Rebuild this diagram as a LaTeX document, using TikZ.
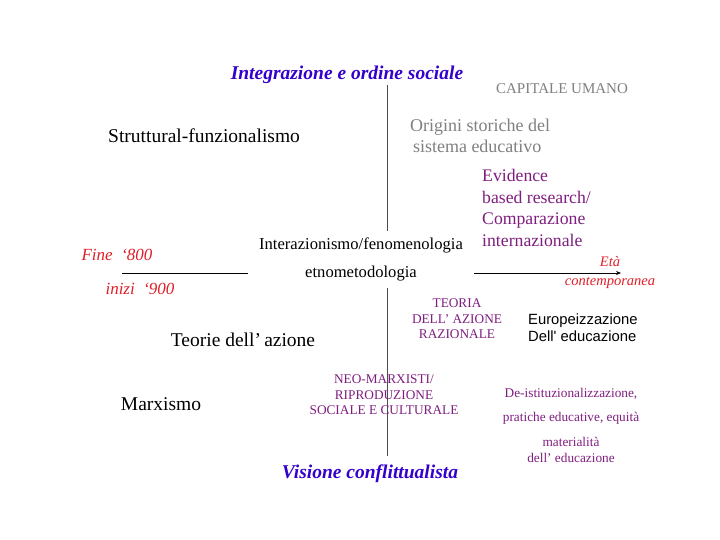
\documentclass[tikz,border=0pt]{standalone}
\usepackage{fontspec}
\setmainfont{Liberation Serif}
\newfontfamily\arialfont{Liberation Sans}
\usetikzlibrary{arrows.meta}
\definecolor{assecol}{RGB}{51,0,204}
\definecolor{viola}{RGB}{128,30,128}
\definecolor{grigio}{RGB}{128,128,128}
\definecolor{rosso}{RGB}{225,30,40}
\tikzset{
	titolo/.style={text=assecol,font=\fontsize{19.5}{22}\selectfont\bfseries\itshape},
	teoria/.style={text=black,font=\fontsize{19.5}{22}\selectfont},
	epoca/.style={text=rosso,font=\fontsize{17}{20}\selectfont\itshape},
	tema/.style={text=viola,font=\fontsize{13.3}{15.5}\selectfont,align=center,inner sep=0pt}
}
\begin{document}
\begin{tikzpicture}[x=1pt,y=-1pt]
				%%%%% START %%%%%
				\useasboundingbox[fill=white] (0,0) rectangle (720,540);
				
				% asse verticale
				\coordinate (alto) at (387,85);
				\coordinate (centroA) at (387,231);
				\coordinate (centroB) at (387,288);
				\coordinate (basso) at (387,456);
				\draw[line width=1pt, black!70] (alto) -- (centroA);
				\draw[line width=1pt, black!70] (centroB) -- (basso);
				
				% asse orizzontale
				\coordinate (sinA) at (122,273);
				\coordinate (sinB) at (248,273);
				\coordinate (desA) at (474,273);
				\coordinate (desB) at (621,273);
				\draw[line width=0.8pt] (sinA) -- (sinB);
				\draw[line width=0.8pt, -{Stealth[length=5pt,width=4pt]}] (desA) -- (desB);
				
				\node[titolo] (integr) at (347,75) {Integrazione e ordine sociale};
				\node[titolo] (confl) at (370,474) {Visione conflittualista};
				
				\node[text=grigio,font=\fontsize{15}{17}\selectfont] (capitale) at (562,89) {CAPITALE UMANO};
				\node[text=grigio,font=\fontsize{18}{21}\selectfont,align=left] (origini) at (480,136) {Origini storiche del\\ \,sistema educativo};
				\node[text=viola,font=\fontsize{17.7}{21.5}\selectfont,align=left,anchor=west,inner sep=0pt] (evidence) at (482,208) {Evidence\\based research/\\Comparazione\\internazionale};
				
				\node[teoria,anchor=west,inner sep=0pt] (strutt) at (108,136) {Struttural-funzionalismo};
				\node[text=black,font=\fontsize{16.6}{18}\selectfont] (interaz) at (361,245) {Interazionismo/fenomenologia};
				\node[text=black,font=\fontsize{16.6}{18}\selectfont] (etno) at (361,274) {etnometodologia};
				\node[teoria] (azione) at (243,340) {Teorie dell'\,azione};
				\node[teoria] (marx) at (161,404) {Marxismo};
				
				\node[epoca] (fine) at (117,255) {Fine\ \ `800};
				\node[epoca] (inizi) at (140,289) {inizi\ \ `900};
				\node[text=rosso,font=\fontsize{14.5}{19}\selectfont\itshape,align=center,inner sep=0pt] (eta) at (610,273) {Età\\contemporanea};
				
				\node[tema] (teorRaz) at (457,319) {TEORIA\\DELL' AZIONE\\RAZIONALE};
				\node[text=black,font=\fontsize{14.8}{17}\selectfont\arialfont,align=left,anchor=west,inner sep=0pt] (europ) at (528,328) {Europeizzazione\\Dell' educazione};
				\node[tema] (neomarx) at (384,395) {NEO-MARXISTI/\\RIPRODUZIONE\\SOCIALE E CULTURALE};
				\node[tema,font=\fontsize{13.3}{24}\selectfont] (deist) at (571,406) {De-istituzionalizzazione,\\pratiche educative, equità};
				\node[tema,font=\fontsize{13.3}{16}\selectfont] (materia) at (571,450) {materialità\\dell' educazione};
				%%%%% END %%%%%
\end{tikzpicture}
\end{document}
